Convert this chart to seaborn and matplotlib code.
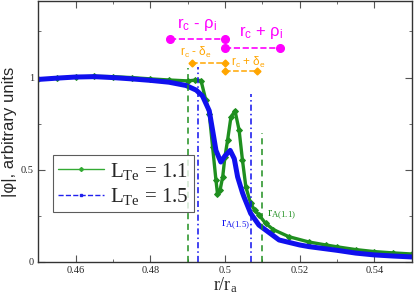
import numpy as np
import pandas as pd
import seaborn as sns
import matplotlib.pyplot as plt
from matplotlib.lines import Line2D
from matplotlib.ticker import MultipleLocator

# |phi| profiles
r_11 = [0.45, 0.455, 0.46, 0.465, 0.47, 0.475, 0.48, 0.485, 0.49, 0.492, 0.4936, 0.4949,
        0.4958, 0.4967, 0.4976, 0.498, 0.4987, 0.4994, 0.5, 0.5007, 0.5016, 0.5027, 0.5038,
        0.5047, 0.5056, 0.5069, 0.508, 0.5091, 0.5109, 0.513, 0.5171, 0.5225, 0.527, 0.53,
        0.535, 0.54, 0.545, 0.55]
phi_11 = [0.99, 0.997, 1.003, 1.007, 1.005, 1.0, 0.993, 0.987, 0.982, 0.986, 0.984, 0.876,
          0.805, 0.623, 0.443, 0.371, 0.39, 0.461, 0.57, 0.659, 0.785, 0.82, 0.714,
          0.551, 0.407, 0.317, 0.28, 0.255, 0.209, 0.175, 0.137, 0.108, 0.092, 0.082,
          0.067, 0.056, 0.049, 0.043]

r_15 = [0.45, 0.455, 0.46, 0.465, 0.47, 0.475, 0.48, 0.485, 0.4896, 0.4923, 0.494, 0.4958,
        0.4967, 0.4976, 0.4989, 0.5, 0.5014, 0.5025, 0.5034, 0.5047, 0.5051, 0.5069, 0.5091,
        0.5145, 0.52, 0.5225, 0.53, 0.535, 0.54, 0.545, 0.55]
phi_15 = [0.99, 0.997, 1.003, 1.005, 1.0, 0.993, 0.985, 0.975, 0.957, 0.932, 0.9, 0.82,
          0.714, 0.605, 0.542, 0.575, 0.605, 0.56, 0.461, 0.375, 0.353, 0.263, 0.2,
          0.119, 0.092, 0.083, 0.063, 0.048, 0.038, 0.032, 0.027]

# resonance positions and their heights
r_res_11 = [0.49, 0.51]
top_res_11 = [1.05, 0.70]
r_res_15 = [0.4929, 0.5071]
top_res_15 = [1.06, 0.91]

r_c = 0.5
rho_i = 0.0147
delta_e = 0.0087

sns.set_style('ticks')
plt.rcParams['font.family'] = ['Liberation Serif', 'DejaVu Serif']

df11 = pd.DataFrame({'r': r_11, 'phi': phi_11})
df15 = pd.DataFrame({'r': r_15, 'phi': phi_15})

fig = plt.figure(figsize=(4.15, 2.99), dpi=100)
ax = fig.add_axes([0.092, 0.124, 0.9, 0.873])

sns.lineplot(data=df11, x='r', y='phi', ax=ax, color='#1f8f1f', lw=2.4, sort=False,
             marker='D', ms=3, mec='#1f8f1f')
sns.lineplot(data=df15, x='r', y='phi', ax=ax, color='#1010ee', lw=3.6, sort=False)

ax.vlines(r_res_11, 0, top_res_11, colors='#1f8f1f', linestyles=(0, (4, 3)), lw=1.1)
ax.vlines(r_res_15, 0, top_res_15, colors='#1010ee', linestyles=(0, (4, 2, 1, 2)), lw=1.1)

mag = '#ff00ff'
ax.plot([r_c - rho_i, r_c], [1.209, 1.209], ls='--', marker='o', ms=5.5, color=mag, lw=1.2)
ax.plot([r_c, r_c + rho_i], [1.158, 1.158], ls='--', marker='o', ms=5.5, color=mag, lw=1.2)
org = '#ffa500'
ax.plot([r_c - delta_e, r_c], [1.079, 1.079], ls='--', marker='D', ms=3.5, color=org, lw=1.1)
ax.plot([r_c, r_c + delta_e], [1.034, 1.034], ls='--', marker='D', ms=3.5, color=org, lw=1.1)

sans = ['Liberation Sans', 'DejaVu Sans']
ax.text(0.4926, 1.29, r'$\mathregular{r_c}$ - $\mathregular{\rho_i}$', color=mag,
        fontsize=12, ha='center', va='center', family=sans)
ax.text(0.5096, 1.245, r'$\mathregular{r_c}$ + $\mathregular{\rho_i}$', color=mag,
        fontsize=12, ha='center', va='center', family=sans)
ax.text(0.4923, 1.137, r'$\mathregular{r_c}$ - $\mathregular{\delta_e}$', color=org,
        fontsize=8.5, ha='center', va='center', family=sans)
ax.text(0.5062, 1.083, r'$\mathregular{r_c}$ + $\mathregular{\delta_e}$', color=org,
        fontsize=8.5, ha='center', va='center', family=sans)

ax.text(0.5066, 0.2, r'$\mathregular{r_{A(1.5)}}$', color='#1010ee', fontsize=9,
        ha='right', va='center')
ax.text(0.5113, 0.254, r'$\mathregular{r_{A(1.1)}}$', color='#1f8f1f', fontsize=9,
        ha='left', va='center')

ax.set_xlim(0.45, 0.55)
ax.set_ylim(0, 1.416)
ax.xaxis.set_minor_locator(MultipleLocator(0.01))
ax.yaxis.set_minor_locator(MultipleLocator(0.25))
ax.set_xticks([0.46, 0.48, 0.5, 0.52, 0.54])
ax.set_xticklabels(['0.46', '0.48', '0.5', '0.52', '0.54'])
ax.set_yticks([0, 0.5, 1])
ax.set_yticklabels(['0', '0.5', '1'])
ax.tick_params(which='both', direction='in', top=True, right=True, labelsize=7.5,
               color='#555555', pad=3)
ax.tick_params(which='major', length=5)
ax.tick_params(which='minor', length=2.5)
for s in ax.spines.values():
    s.set_color('#333333')
    s.set_linewidth(1.0)

ax.set_xlabel(r'$\mathregular{r/r_a}$', fontsize=13, labelpad=0)
ax.set_ylabel('|\u03c6|, arbitrary units', fontsize=12, family=sans, labelpad=3)

handles = [Line2D([], [], color='#33aa33', lw=1, marker='D', ms=2),
           Line2D([], [], color='#2020ee', lw=1, ls='--', marker='s', ms=2, mfc='none')]
leg = ax.legend(handles, [r'$\mathregular{L_{Te}}$ = 1.1', r'$\mathregular{L_{Te}}$ = 1.5'],
                loc='upper left', bbox_to_anchor=(0.04, 0.408), fontsize=15,
                frameon=True, fancybox=False, edgecolor='#333333', handlelength=2.2,
                handletextpad=0.3, borderpad=0.25, labelspacing=0.2, borderaxespad=0)
leg.get_frame().set_linewidth(0.8)

fig.savefig('out.png', dpi=100)
